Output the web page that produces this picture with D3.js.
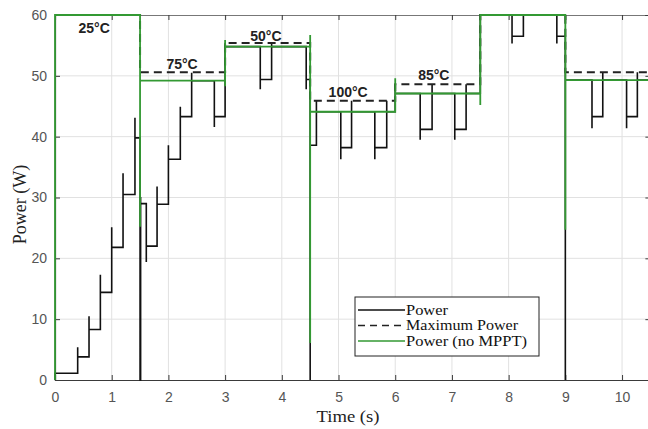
<!DOCTYPE html>
<html>
<head>
<meta charset="utf-8">
<script src="https://cdn.jsdelivr.net/npm/d3@7"></script>
<style>
  html, body { margin: 0; padding: 0; background: #fff; }
  svg { display: block; }
</style>
</head>
<body>
<script>
// ---------------- DATA ----------------
const xTicks = [0, 1, 2, 3, 4, 5, 6, 7, 8, 9, 10];
const yTicks = [0, 10, 20, 30, 40, 50, 60];
const xDomain = [0, 10.5];
const yDomain = [0, 60];

// Power (MPPT) [time s, power W]
const powerMPPT = [
  [0, 0], [0, 1.1], [0.4, 1.1], [0.4, 5.4], [0.4, 3.8], [0.6, 3.8], [0.6, 10.5], [0.6, 8.3],
  [0.8, 8.3], [0.8, 17.3], [0.8, 14.4], [1.0, 14.4], [1.0, 25.1], [1.0, 21.8],
  [1.2, 21.8], [1.2, 34.0], [1.2, 30.5], [1.41, 30.5], [1.41, 43.1], [1.41, 39.8],
  [1.5, 39.8], [1.5, 0], [1.51, 0], [1.51, 30.1], [1.51, 29.0], [1.61, 29.0], [1.61, 19.4], [1.61, 22.0],
  [1.8, 22.0], [1.8, 31.8], [1.8, 28.9], [2.0, 28.9], [2.0, 38.6], [2.0, 36.3],
  [2.21, 36.3], [2.21, 44.9], [2.21, 43.3], [2.41, 43.3], [2.41, 50.5], [2.41, 49.2],
  [2.81, 49.2], [2.81, 41.6], [2.81, 43.3], [3.0, 43.3], [3.0, 55.4], [3.0, 54.8],
  [3.62, 54.8], [3.62, 47.8], [3.62, 49.4], [3.82, 49.4], [3.82, 55.4], [3.82, 54.8],
  [4.43, 54.8], [4.43, 47.8], [4.43, 49.4], [4.5, 49.4], [4.5, 0], [4.5, 38.6],
  [4.61, 38.6], [4.61, 45.9], [4.61, 44.1],
  [5.04, 44.1], [5.04, 36.3], [5.04, 38.2], [5.23, 38.2], [5.23, 45.9], [5.23, 44.1],
  [5.64, 44.1], [5.64, 36.3], [5.64, 38.2], [5.85, 38.2], [5.85, 45.9], [5.85, 44.1],
  [6.0, 44.1], [6.0, 48.6], [6.0, 47.1],
  [6.44, 47.1], [6.44, 39.5], [6.44, 41.2], [6.65, 41.2], [6.65, 48.6], [6.65, 47.1],
  [7.05, 47.1], [7.05, 39.5], [7.05, 41.2], [7.25, 41.2], [7.25, 48.6], [7.25, 47.1],
  [7.5, 47.1], [7.5, 60],
  [8.06, 60], [8.06, 55.3], [8.06, 56.5], [8.26, 56.5], [8.26, 60],
  [8.85, 60], [8.85, 55.3], [8.85, 56.5], [9.0, 56.5], [9.0, 0], [9.0, 50.6], [9.0, 49.3],
  [9.47, 49.3], [9.47, 41.4], [9.47, 43.3], [9.66, 43.3], [9.66, 50.6], [9.66, 49.3],
  [10.08, 49.3], [10.08, 41.4], [10.08, 43.3], [10.27, 43.3], [10.27, 50.6], [10.27, 49.3],
  [10.5, 49.3]
];

// Maximum Power [time s, power W]
const maxPower = [
  [0, 60], [1.5, 60], [1.5, 50.6], [3.0, 50.6], [3.0, 55.4], [4.5, 55.4], [4.5, 45.9],
  [6.0, 45.9], [6.0, 48.6], [7.5, 48.6], [7.5, 60], [9.0, 60], [9.0, 50.6], [10.5, 50.6]
];

// Power without MPPT [time s, power W]
const powerNoMPPT = [
  [0, 0], [0, 60], [1.5, 60], [1.5, 25.2], [1.5, 49.2], [3.0, 49.2], [3.0, 48.3], [3.0, 55.9], [3.0, 54.8],
  [4.5, 54.8], [4.5, 56.7], [4.5, 6.1], [4.5, 44.1], [6.0, 44.1], [6.0, 49.6], [6.0, 47.1],
  [7.5, 47.1], [7.5, 45.2], [7.5, 60], [9.0, 60], [9.0, 24.7], [9.0, 49.3], [10.5, 49.3]
];

// temperature annotations (centre time, baseline power)
const tempLabels = ["25°C", "75°C", "50°C", "100°C", "85°C"];
const tempT = [0.69, 2.24, 3.72, 5.17, 6.68];
const tempV = [57.0, 51.2, 55.7, 46.5, 49.3];

const legendLabels = ["Power", "Maximum Power", "Power (no MPPT)"];

// ---------------- CHART ----------------
const W = 648, H = 429;
const mLeft = 55, mTop = 15, mRight = 650.4, mBottom = 380;
const GREEN = "#339933";

const svg = d3.select("body").append("svg")
  .attr("width", W).attr("height", H)
  .style("background", "#fff");

const x = d3.scaleLinear().domain(xDomain).range([mLeft, mRight]);
const y = d3.scaleLinear().domain(yDomain).range([mBottom, mTop]);

// grid
const grid = svg.append("g");
grid.selectAll(".gx").data(xTicks.filter(d => d > 0)).enter().append("line")
  .attr("x1", d => x(d)).attr("x2", d => x(d)).attr("y1", mTop).attr("y2", mBottom)
  .attr("stroke", "#e1e1e1").attr("stroke-width", 1);
grid.selectAll(".gy").data(yTicks.filter(d => d > 0 && d < 60)).enter().append("line")
  .attr("x1", mLeft).attr("x2", mRight).attr("y1", d => y(d)).attr("y2", d => y(d))
  .attr("stroke", "#e1e1e1").attr("stroke-width", 1);

// axes
const axisColor = "#3a3a3a";
const xAxis = svg.append("g").attr("transform", `translate(0,${mBottom})`)
  .call(d3.axisBottom(x).tickValues(xTicks).tickSize(-5).tickPadding(12).tickFormat(d3.format("d")));
const xAxisTop = svg.append("g").attr("transform", `translate(0,${mTop})`)
  .call(d3.axisTop(x).tickValues(xTicks).tickSize(-5).tickFormat(""));
const yAxis = svg.append("g").attr("transform", `translate(${mLeft},0)`)
  .call(d3.axisLeft(y).tickValues(yTicks).tickSize(-5).tickPadding(8).tickFormat(d3.format("d")));
const yAxisRight = svg.append("g").attr("transform", `translate(${mRight},0)`)
  .call(d3.axisRight(y).tickValues(yTicks).tickSize(-5).tickFormat(""));

[xAxis, xAxisTop, yAxis, yAxisRight].forEach(g => {
  g.selectAll("path.domain").attr("stroke", axisColor).attr("stroke-width", 1.2);
  g.selectAll(".tick line").attr("stroke", axisColor);
  g.selectAll("text").attr("fill", "#555").style("font-family", "'Liberation Sans', Arial, sans-serif").style("font-size", "14px");
});
xAxisTop.selectAll("path.domain").attr("stroke", "#777");

// lines
const line = d3.line().x(d => x(d[0])).y(d => y(d[1]));

svg.append("path").datum(powerMPPT).attr("d", line)
  .attr("fill", "none").attr("stroke", "#111").attr("stroke-width", 1.6)
  .attr("stroke-linejoin", "miter");

svg.append("path").datum(maxPower).attr("d", line)
  .attr("fill", "none").attr("stroke", "#222").attr("stroke-width", 2)
  .attr("stroke-dasharray", "8,5");

svg.append("path").datum(powerNoMPPT).attr("d", line)
  .attr("fill", "none").attr("stroke", GREEN).attr("stroke-width", 1.8);

// temperature labels
svg.selectAll(".temp").data(tempLabels).enter().append("text")
  .attr("x", (d, i) => x(tempT[i])).attr("y", (d, i) => y(tempV[i]))
  .attr("text-anchor", "middle")
  .style("font-family", "'Liberation Sans', Arial, sans-serif")
  .style("font-weight", "bold").style("font-size", "14px")
  .attr("fill", "#222")
  .text(d => d);

// axis titles
svg.append("text")
  .attr("x", 348).attr("y", 422)
  .attr("text-anchor", "middle")
  .style("font-family", "'Liberation Serif', 'Times New Roman', serif")
  .style("font-size", "17px").attr("fill", "#222")
  .attr("textLength", 63).attr("lengthAdjust", "spacingAndGlyphs")
  .text("Time (s)");

svg.append("text")
  .attr("transform", `translate(26,${(mTop + mBottom) / 2 + 7}) rotate(-90)`)
  .attr("text-anchor", "middle")
  .style("font-family", "'Liberation Serif', 'Times New Roman', serif")
  .style("font-size", "18px").attr("fill", "#222")
  .text("Power (W)");

// legend
const lg = svg.append("g");
const lgX = 355, lgY = 297, lgW = 184, lgH = 59;
lg.append("rect").attr("x", lgX).attr("y", lgY).attr("width", lgW).attr("height", lgH)
  .attr("fill", "#fff").attr("stroke", "#222").attr("stroke-width", 1);
const lgStyles = [
  { stroke: "#111", dash: null },
  { stroke: "#222", dash: "7,5" },
  { stroke: GREEN, dash: null }
];
const lgWidths = [42, 112, 121];
legendLabels.forEach((lab, i) => {
  const cy = lgY + 13 + i * 15.5;
  lg.append("line").attr("x1", lgX + 3).attr("x2", lgX + 50).attr("y1", cy).attr("y2", cy)
    .attr("stroke", lgStyles[i].stroke).attr("stroke-width", 1.4)
    .attr("stroke-dasharray", lgStyles[i].dash);
  lg.append("text").attr("x", lgX + 51).attr("y", cy + 4.5)
    .style("font-family", "'Liberation Serif', 'Times New Roman', serif")
    .style("font-size", "14px").attr("fill", "#111")
    .attr("textLength", lgWidths[i]).attr("lengthAdjust", "spacingAndGlyphs")
    .text(lab);
});
</script>
</body>
</html>
